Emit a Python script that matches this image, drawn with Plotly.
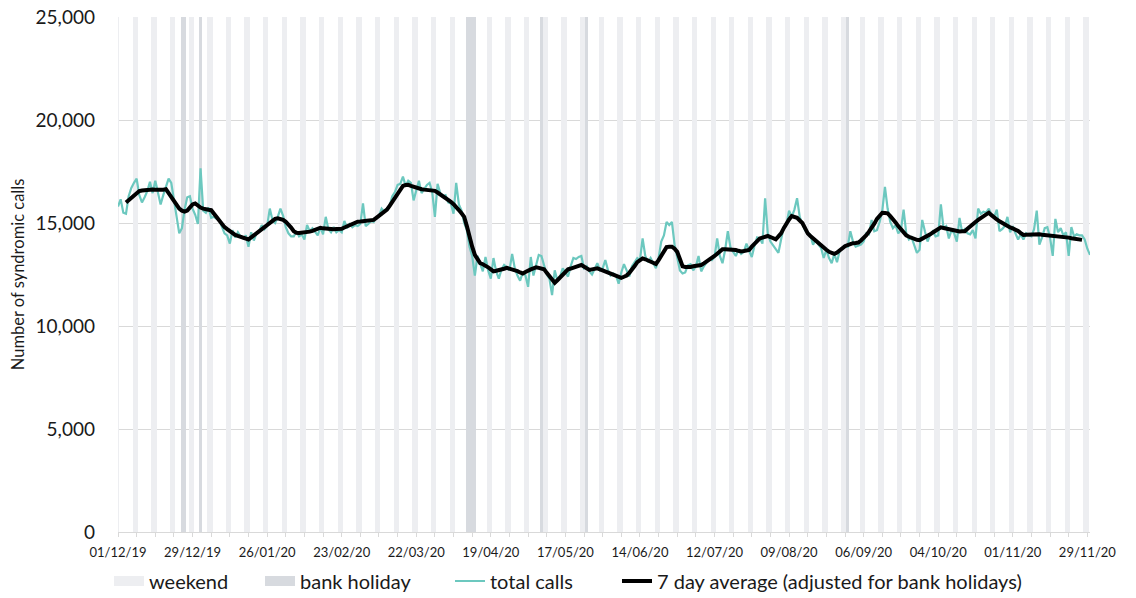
import plotly.graph_objects as go
import pandas as pd

start_date = "2019-12-01"
total_calls = [
    15800, 16150, 15500, 15450, 16300, 16700, 16950,
    17150, 16350, 16000, 16250, 16550, 17000, 16450,
    17050, 16400, 15900, 16350, 16800, 17150, 16950,
    16200, 15350, 14500, 14750, 15650, 16250, 16300,
    15700, 15400, 14950, 17650, 15600, 15500, 15750,
    15250, 15300, 15200, 15150, 14800, 14500, 14400,
    14000, 14650, 14300, 14550, 14350, 14250, 14400,
    13850, 14550, 14150, 14500, 14600, 14900, 14700,
    14850, 15700, 15150, 15000, 15300, 15700, 15350,
    14800, 14500, 14350, 14350, 14600, 14350, 14450,
    14200, 14900, 14600, 14750, 14550, 14400, 14800,
    14450, 15300, 14700, 14550, 14800, 14550, 14650,
    14550, 15100, 14750, 14950, 14800, 14900, 14850,
    14950, 15950, 14850, 14950, 15100, 15050, 15250,
    15350, 15700, 15550, 15700, 15850, 16300, 16500,
    16850, 16900, 17250, 16800, 17050, 16950, 16100,
    16650, 17050, 16450, 16650, 16850, 16950, 16500,
    15300, 16900, 16450, 16300, 16350, 16000, 15950,
    15450, 16950, 15900, 15600, 15000, 14650, 13850,
    13400, 12450, 13400, 13050, 12650, 13350, 12700,
    12300, 13300, 12650, 12300, 12750, 12960, 12850,
    12700, 13500, 12800, 12450, 12200, 12600, 12450,
    11900, 13350, 12450, 12900, 13450, 13400, 12900,
    12500, 12300, 11500, 12700, 12200, 12400, 12800,
    12600, 12400, 12900, 13300, 13250, 13350, 13400,
    12800, 12900, 12650, 12500, 12800, 13050, 12700,
    12800, 13200, 12700, 12450, 12550, 12450, 12050,
    12600, 13000, 12700, 12400, 12900, 13100, 13300,
    13200, 14250, 13400, 13100, 13300, 13050, 12800,
    13300, 14100, 14400, 15050, 14900, 15050, 13950,
    13300, 12700, 12550, 12600, 12950, 13000, 12700,
    12900, 13400, 12650, 12900, 13100, 13250, 13200,
    13350, 14250, 13400, 13050, 13700, 14600, 13800,
    13600, 13400, 13700, 13500, 13600, 14000, 13650,
    13350, 13900, 14300, 14250, 14000, 16200, 14500,
    14100, 13900, 13700, 13550, 14200, 14800, 14950,
    15600, 15300, 15650, 16200, 15300, 14950, 14650,
    14550, 14400, 13950, 14200, 13950, 13800, 13300,
    13700, 13300, 13050, 13500, 13100, 13650, 13750,
    13900, 13850, 14600, 14100, 13850, 13900, 13950,
    14100, 14500, 14450, 15150, 14600, 14650, 15050,
    15600, 16750, 15700, 15050, 14750, 14900, 14500,
    14650, 15650, 14500, 14200, 14300, 13950, 13550,
    13700, 15150, 14600, 14100, 14450, 14600, 14350,
    14400, 15900, 14750, 14850, 14250, 14650, 14500,
    14100, 15250, 14550, 14700, 14500, 14450, 14650,
    14250, 15700, 15450, 15550, 15500, 15700, 15400,
    15300, 15650, 14600, 14700, 14850, 15300, 14550,
    14850, 14500, 14200, 14450, 14200, 14500, 14400,
    14350, 14700, 15600, 13950, 14300, 14750, 14800,
    14300, 13400, 15200, 14550, 14750, 14400, 14550,
    13400, 14800, 14350, 14450, 14400, 14400, 14200,
    13750, 13450,
]

avg_start_date = "2019-12-04"
avg_7day = [
    16000, 16100, 16200, 16320, 16450, 16550, 16580,
    16600, 16610, 16620, 16620, 16610, 16600, 16600,
    16620, 16640, 16450, 16200, 16000, 15850, 15700,
    15600, 15550, 15600, 15780, 15900, 15950, 15820,
    15750, 15700, 15650, 15640, 15620, 15450, 15250,
    15100, 14950, 14800, 14700, 14600, 14500, 14420,
    14370, 14330, 14290, 14250, 14200, 14300, 14400,
    14500, 14620, 14740, 14850, 14950, 15050, 15150,
    15200, 15230, 15200, 15150, 15060, 14950, 14780,
    14600, 14530, 14520, 14530, 14550, 14570, 14580,
    14620, 14680, 14730, 14770, 14740, 14720, 14700,
    14700, 14700, 14710, 14710, 14720, 14780, 14840,
    14900, 14960, 15020, 15060, 15070, 15080, 15090,
    15100, 15120, 15150, 15250, 15350, 15450, 15550,
    15650, 15830, 16020, 16200, 16400, 16600, 16800,
    16840, 16850, 16800, 16750, 16700, 16670, 16640,
    16620, 16610, 16590, 16580, 16560, 16480, 16400,
    16300, 16220, 16150, 16030, 15910, 15790, 15630,
    15470, 15300, 14850, 14300, 13850, 13450, 13200,
    13050, 13000, 12950, 12850, 12750, 12650, 12680,
    12700, 12740, 12780, 12820, 12790, 12750, 12720,
    12660, 12600, 12550, 12620, 12700, 12750, 12800,
    12850, 12820, 12780, 12750, 12580, 12400, 12250,
    12100, 12220, 12350, 12480, 12620, 12750, 12790,
    12820, 12870, 12920, 12960, 12880, 12800, 12720,
    12750, 12780, 12800, 12750, 12700, 12650, 12580,
    12510, 12450, 12410, 12370, 12340, 12390, 12450,
    12580, 12720, 12910, 13100, 13190, 13280, 13240,
    13190, 13150, 13080, 13010, 13200, 13400, 13620,
    13830, 13850, 13850, 13750, 13600, 13250, 12900,
    12870, 12850, 12870, 12900, 12920, 12940, 12960,
    13040, 13120, 13200, 13300, 13400, 13510, 13620,
    13730, 13730, 13720, 13720, 13720, 13690, 13650,
    13620, 13640, 13670, 13690, 13850, 14000, 14130,
    14250, 14290, 14330, 14370, 14320, 14260, 14210,
    14350, 14500, 14750, 15000, 15170, 15340, 15300,
    15250, 15120, 15000, 14750, 14500, 14370, 14250,
    14130, 14020, 13900, 13800, 13700, 13600, 13550,
    13500, 13560, 13680, 13800, 13870, 13930, 14000,
    14020, 14030, 14050, 14150, 14250, 14410, 14580,
    14740, 14970, 15200, 15350, 15500, 15490, 15470,
    15330, 15200, 15030, 14850, 14700, 14550, 14400,
    14330, 14270, 14200, 14180, 14170, 14230, 14300,
    14370, 14450, 14540, 14620, 14700, 14790, 14760,
    14730, 14700, 14660, 14620, 14580, 14590, 14600,
    14600, 14720, 14850, 14950, 15050, 15150, 15250,
    15350, 15450, 15500, 15380, 15250, 15170, 15080,
    15000, 14910, 14820, 14780, 14740, 14700, 14610,
    14510, 14420, 14430, 14440, 14450, 14450, 14450,
    14450, 14430, 14420, 14400, 14390, 14390, 14380,
    14370, 14360, 14350, 14320, 14290, 14260, 14240,
    14220, 14200, 14180,
]

bank_holidays = [
    "2019-12-25", "2019-12-26", "2020-01-01",
    "2020-04-10", "2020-04-11", "2020-04-12", "2020-04-13",
    "2020-05-08", "2020-05-25", "2020-08-31",
]

legend_names = ["weekend", "bank holiday", "total calls",
                "7 day average (adjusted for bank holidays)"]

x_tick_start = "2019-12-01"
x_tick_step_days = 28
y_ticks = [0, 5000, 10000, 15000, 20000, 25000]

WEEKEND_COLOR = "#edeef1"
BH_COLOR = "#d7dadf"
TEAL = "#6cc8bf"
BLACK = "#000000"

dates = pd.date_range(start_date, periods=len(total_calls), freq="D")
avg_dates = pd.date_range(avg_start_date, periods=len(avg_7day), freq="D")
bh_set = set(pd.to_datetime(bank_holidays))
weekend_days = [d for d in dates if d.weekday() >= 5 and d not in bh_set]
bh_days = [d for d in dates if d in bh_set]

DAY_MS = 86400000
TOP = y_ticks[-1]
FONT = "Lato, 'Open Sans', sans-serif"
TXT = "#1a1a1a"

fig = go.Figure()
# shaded day columns
fig.add_trace(go.Bar(
    x=weekend_days, y=[TOP] * len(weekend_days), width=DAY_MS,
    marker=dict(color=WEEKEND_COLOR, line=dict(width=0)),
    name=legend_names[0], showlegend=False,
))
fig.add_trace(go.Bar(
    x=bh_days, y=[TOP] * len(bh_days), width=DAY_MS,
    marker=dict(color=BH_COLOR, line=dict(width=0)),
    name=legend_names[1], showlegend=False,
))
fig.add_trace(go.Scatter(
    x=dates, y=total_calls, mode="lines",
    line=dict(color=TEAL, width=2.2),
    name=legend_names[2], legend="legend3",
))
fig.add_trace(go.Scatter(
    x=avg_dates, y=avg_7day, mode="lines",
    line=dict(color=BLACK, width=4),
    name=legend_names[3], legend="legend4",
))
# legend swatches for the shaded columns (wide boxes, as in the original)
fig.add_trace(go.Scatter(
    x=[None], y=[None], mode="lines",
    line=dict(color=WEEKEND_COLOR, width=14),
    name=legend_names[0], legend="legend",
))
fig.add_trace(go.Scatter(
    x=[None], y=[None], mode="lines",
    line=dict(color=BH_COLOR, width=14),
    name=legend_names[1], legend="legend2",
))

# The page places the figure 8px in from the top-left corner (default body
# margin), so pixel targets are expressed relative to that origin.
OFF = 8
W, H = 1136, 598
PLOT_L, PLOT_R, PLOT_T, PLOT_B = 118 - OFF, 1090 - OFF, 17 - OFF, 532 - OFF


def px_to_paper_x(px):
    return (px - OFF - PLOT_L) / (PLOT_R - PLOT_L)


def px_to_paper_y(py):
    return (PLOT_B - (py - OFF)) / (PLOT_B - PLOT_T)


leg_font = dict(size=20, family=FONT, color=TXT)
leg_y = px_to_paper_y(581)
legend_common = dict(orientation="h", yanchor="middle", xanchor="left",
                     y=leg_y, font=leg_font, bgcolor="rgba(0,0,0,0)",
                     borderwidth=0)

fig.update_layout(
    width=W, height=H,
    margin=dict(l=PLOT_L, r=W - PLOT_R, t=PLOT_T, b=H - PLOT_B, autoexpand=False),
    paper_bgcolor="white", plot_bgcolor="white",
    barmode="overlay", bargap=0,
    font=dict(family=FONT, color=TXT),
    legend=dict(x=px_to_paper_x(109), **legend_common),
    legend2=dict(x=px_to_paper_x(260), **legend_common),
    legend3=dict(x=px_to_paper_x(450), **legend_common),
    legend4=dict(x=px_to_paper_x(617), **legend_common),
)
fig.update_xaxes(
    type="date",
    range=[start_date, dates[-1]],
    tick0=x_tick_start, dtick=x_tick_step_days * DAY_MS,
    tickformat="%d/%m/%y",
    tickfont=dict(size=13, family=FONT, color=TXT),
    ticks="outside", ticklen=4, tickcolor="#d9d9d9",
    ticklabelstandoff=4, ticklabeloverflow="allow",
    minor=dict(dtick=7 * DAY_MS, tick0=x_tick_start, ticks="outside",
               ticklen=4, tickcolor="#d9d9d9", showgrid=False),
    showgrid=False, showline=True, linecolor="#d9d9d9", linewidth=1,
    zeroline=False, automargin=False,
)
fig.update_yaxes(
    range=[0, TOP], tickvals=y_ticks, tickformat=",",
    tickfont=dict(size=19, family=FONT, color=TXT),
    ticklabelstandoff=22, ticklabeloverflow="allow",
    showgrid=True, gridcolor="#d9d9d9", gridwidth=1,
    zeroline=False, showline=False, ticks="", automargin=False,
    title=dict(text="Number of syndromic calls",
               font=dict(size=16.5, family=FONT, color=TXT), standoff=8),
)

fig.write_html("out.html")
